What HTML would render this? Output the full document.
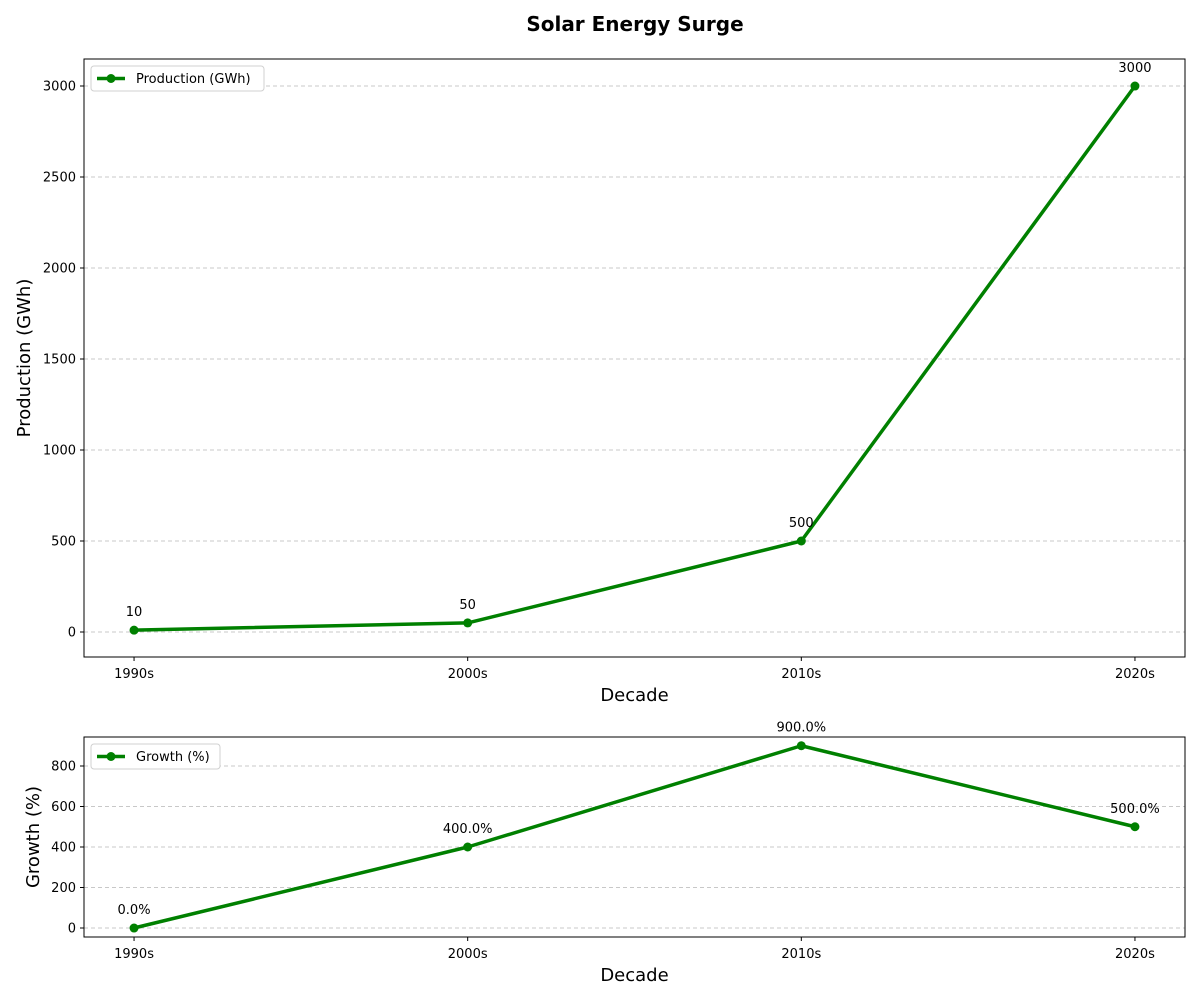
<!DOCTYPE html>
<html><head><meta charset="utf-8"><style>
body{margin:0;background:#fff}
svg text{font-family:"DejaVu Sans","Liberation Sans",sans-serif}
</style></head><body>
<svg id="c" width="1200" height="1000" xmlns="http://www.w3.org/2000/svg">
<rect width="1200" height="1000" fill="#fff"/>
<text x="635" y="31" text-anchor="middle" font-size="20" font-weight="bold">Solar Energy Surge</text>
</svg>
<script>
const categories = ["1990s","2000s","2010s","2020s"];
const production = [10, 50, 500, 3000];
const growth = [0, 400, 900, 500];
const prodTicks = [0,500,1000,1500,2000,2500,3000];
const growthTicks = [0,200,400,600,800];
const prodLabels = ["10","50","500","3000"];
const growthLabels = ["0.0%","400.0%","900.0%","500.0%"];

const svg = document.getElementById('c');
const NS = "http://www.w3.org/2000/svg";
function el(tag, attrs, parent){
  const e = document.createElementNS(NS, tag);
  for (const k in attrs) e.setAttribute(k, attrs[k]);
  (parent||svg).appendChild(e);
  return e;
}
function panel(cfg){
  const g = el('g', {});
  
  
  const xs = i => cfg.x0 + (i - cfg.xmin) / (cfg.xmax - cfg.xmin) * (cfg.x1 - cfg.x0);
  const ys = v => cfg.y1 - (v - cfg.ymin) / (cfg.ymax - cfg.ymin) * (cfg.y1 - cfg.y0);
  cfg.ticks.forEach(t => {
    const y = ys(t);
    const gl = el('line', {x1:cfg.x0, x2:cfg.x1, y1:y, y2:y, stroke:'#c8c8c8', 'stroke-dasharray':'4,3', 'stroke-width':1}, g);
    
    
    el('line', {x1:cfg.x0-4, x2:cfg.x0, y1:y, y2:y, stroke:'#000'}, g);
    const tl = el('text', {x:cfg.x0-8, y:y+4.5, 'text-anchor':'end', 'font-size':13}, g);
    tl.textContent = t;
    
    
  });
  categories.forEach((c, i) => {
    const x = xs(i);
    el('line', {x1:x, x2:x, y1:cfg.y1, y2:cfg.y1+4, stroke:'#000'}, g);
    const tl = el('text', {x:x, y:cfg.y1+21, 'text-anchor':'middle', 'font-size':13}, g);
    tl.textContent = c;
    
    
  });
  const pts = cfg.data.map((v, i) => xs(i) + ',' + ys(v)).join(' ');
  const line = el('polyline', {points:pts, fill:'none', stroke:'#008000', 'stroke-width':3.5, 'stroke-linejoin':'round'}, g);
  
  
  cfg.data.forEach((v, i) => {
    const p = el('circle', {cx:xs(i), cy:ys(v), r:4.5, fill:'#008000'}, g);
    
    
    const lb = el('text', {x:xs(i), y:ys(v)-14, 'text-anchor':'middle', 'font-size':13}, g);
    lb.textContent = cfg.labels[i];
    
    
  });
  const fr = el('rect', {x:cfg.x0, y:cfg.y0, width:cfg.x1-cfg.x0, height:cfg.y1-cfg.y0, fill:'none', stroke:'#000', 'stroke-width':1}, g);
  
  
  const xt = el('text', {x:(cfg.x0+cfg.x1)/2, y:cfg.y1+44, 'text-anchor':'middle', 'font-size':18}, g);
  xt.textContent = 'Decade';
  
  
  const cy = (cfg.y0+cfg.y1)/2;
  const yt = el('text', {x:cfg.ytx, y:cy, 'text-anchor':'middle', 'font-size':18, transform:'rotate(-90 '+cfg.ytx+' '+cy+')'}, g);
  yt.textContent = cfg.ytitle;
  
  
  const lg = el('g', {}, g);
  
  
  el('rect', {x:cfg.x0+7, y:cfg.y0+7, width:cfg.legW, height:25, rx:3, fill:'#fff', stroke:'#d0d0d0'}, lg);
  el('line', {x1:cfg.x0+13, x2:cfg.x0+41, y1:cfg.y0+19.5, y2:cfg.y0+19.5, stroke:'#008000', 'stroke-width':3.5}, lg);
  el('circle', {cx:cfg.x0+27, cy:cfg.y0+19.5, r:4.5, fill:'#008000'}, lg);
  const lt = el('text', {x:cfg.x0+52, y:cfg.y0+24, 'font-size':13}, lg);
  lt.textContent = cfg.legend;
  
  
}
panel({name:'production-panel', x0:84, x1:1185, y0:59, y1:657, xmin:-0.15, xmax:3.15,
  ymin:-137.4, ymax:3148.4, ticks:prodTicks, data:production, labels:prodLabels,
  ytitle:'Production (GWh)', ytx:30, legend:'Production (GWh)', legW:173});
panel({name:'growth-panel', x0:84, x1:1185, y0:737, y1:937, xmin:-0.15, xmax:3.15,
  ymin:-44.4, ymax:943.2, ticks:growthTicks, data:growth, labels:growthLabels,
  ytitle:'Growth (%)', ytx:39, legend:'Growth (%)', legW:129});
</script>
</body></html>
